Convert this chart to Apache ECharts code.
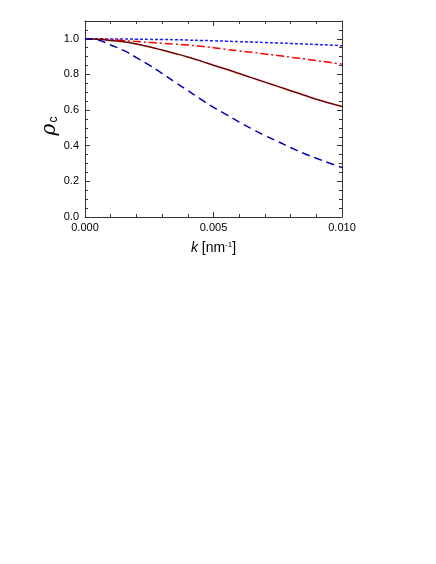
<!DOCTYPE html>
<html>
<head>
<meta charset="utf-8">
<script src="https://cdn.jsdelivr.net/npm/echarts@6/dist/echarts.min.js"></script>
<style>
  html, body { margin: 0; padding: 0; background: #fff; }
  #chart { width: 436px; height: 564px; }
</style>
</head>
<body>
<div id="chart"></div>
<script>
// k values [nm^-1]
const kValues = [0, 0.0005, 0.001, 0.0015, 0.002, 0.0025, 0.003, 0.0035, 0.004, 0.0045, 0.005,
  0.0055, 0.006, 0.0065, 0.007, 0.0075, 0.008, 0.0085, 0.009, 0.0095, 0.010];
// rho_c curves
const solidDarkRed = [1.0, 0.997, 0.991, 0.983, 0.971, 0.955, 0.937, 0.918, 0.898, 0.876, 0.852,
  0.829, 0.805, 0.781, 0.757, 0.733, 0.709, 0.685, 0.661, 0.640, 0.620];
const dashNavy = [1.0, 0.993, 0.965, 0.935, 0.895, 0.852, 0.806, 0.757, 0.710, 0.662, 0.615,
  0.575, 0.533, 0.494, 0.457, 0.424, 0.390, 0.358, 0.330, 0.303, 0.278];
const dashDotRed = [1.0, 0.998, 0.995, 0.990, 0.985, 0.980, 0.975, 0.970, 0.965, 0.958, 0.950,
  0.941, 0.932, 0.924, 0.915, 0.906, 0.897, 0.888, 0.878, 0.868, 0.858];
const shortDashBlue = [1.0, 1.0, 0.999, 0.999, 0.998, 0.997, 0.996, 0.995, 0.993, 0.991, 0.989,
  0.987, 0.984, 0.982, 0.979, 0.977, 0.974, 0.971, 0.968, 0.965, 0.961];
const xTicks = [0, 0.005, 0.010];

const chart = echarts.init(document.getElementById('chart'));

function pairs(vals) {
  return kValues.map((k, i) => [k, vals[i]]);
}

const fontName = 'Liberation Sans, Arial, sans-serif';
const tickFont = { fontFamily: fontName, fontSize: 11, color: '#000' };
const axisLineStyle = { color: '#333', width: 1 };

function xAxisBase(extra) {
  return Object.assign({
    type: 'value', min: 0, max: 0.01, interval: 0.005,
    axisLine: { show: true, onZero: false, lineStyle: axisLineStyle },
    axisTick: { inside: true, length: 5, lineStyle: axisLineStyle },
    minorTick: { show: true, splitNumber: 5, length: 3, lineStyle: axisLineStyle },
    splitLine: { show: false }
  }, extra);
}

function yAxisBase(extra) {
  return Object.assign({
    type: 'value', min: 0, max: 1.1, interval: 0.2,
    axisLine: { show: true, onZero: false, lineStyle: axisLineStyle },
    axisTick: { inside: true, length: 5, lineStyle: axisLineStyle },
    minorTick: { show: true, splitNumber: 4, length: 3, lineStyle: axisLineStyle },
    splitLine: { show: false }
  }, extra);
}

chart.setOption({
  animation: false,
  grid: { left: 85, right: 94, top: 21, bottom: 347 },
  xAxis: [
    xAxisBase({
      axisLabel: Object.assign({ margin: 5, formatter: v => xTicks.includes(v) ? v.toFixed(3) : '' }, tickFont),
      name: '{i|k} [nm{sup|-1}]',
      nameLocation: 'middle',
      nameGap: 24,
      nameTextStyle: {
        fontFamily: fontName, fontSize: 14, color: '#000',
        rich: {
          i: { fontStyle: 'italic', fontSize: 14, fontFamily: fontName },
          sup: { fontSize: 8, verticalAlign: 'top', padding: [0, 0, 7, 0], fontFamily: fontName }
        }
      }
    }),
    xAxisBase({ position: 'top', axisLabel: { show: false } })
  ],
  yAxis: [
    yAxisBase({
      axisLabel: Object.assign({ margin: 6, formatter: v => v > 1.05 ? '' : v.toFixed(1) }, tickFont),
      name: '{i|ρ}{sub|c}',
      nameLocation: 'middle',
      nameMoveOverlap: false,
      nameGap: 25,
      nameRotate: 90,
      nameTextStyle: {
        fontFamily: fontName, fontSize: 18, color: '#000',
        padding: [0, 14, 0, 0],
        rich: {
          i: { fontStyle: 'italic', fontSize: 20, fontFamily: 'DejaVu Serif, serif' },
          sub: { fontSize: 12, verticalAlign: 'bottom', padding: [6, 0, 0, 1], fontFamily: fontName }
        }
      }
    }),
    yAxisBase({ position: 'right', axisLabel: { show: false } })
  ],
  series: [
    {
      type: 'line', data: pairs(shortDashBlue), smooth: true, symbol: 'none',
      lineStyle: { color: '#1a1aff', width: 1.5, type: [3, 2] }
    },
    {
      type: 'line', data: pairs(dashDotRed), smooth: true, symbol: 'none',
      lineStyle: { color: '#ff0000', width: 1.5, type: [8, 3, 2, 3] }
    },
    {
      type: 'line', data: pairs(solidDarkRed), smooth: true, symbol: 'none',
      lineStyle: { color: '#700000', width: 1.5, type: 'solid' }
    },
    {
      type: 'line', data: pairs(dashNavy), smooth: true, symbol: 'none',
      lineStyle: { color: '#0000b0', width: 1.5, type: [8, 5] }
    }
  ]
});
</script>
</body>
</html>
